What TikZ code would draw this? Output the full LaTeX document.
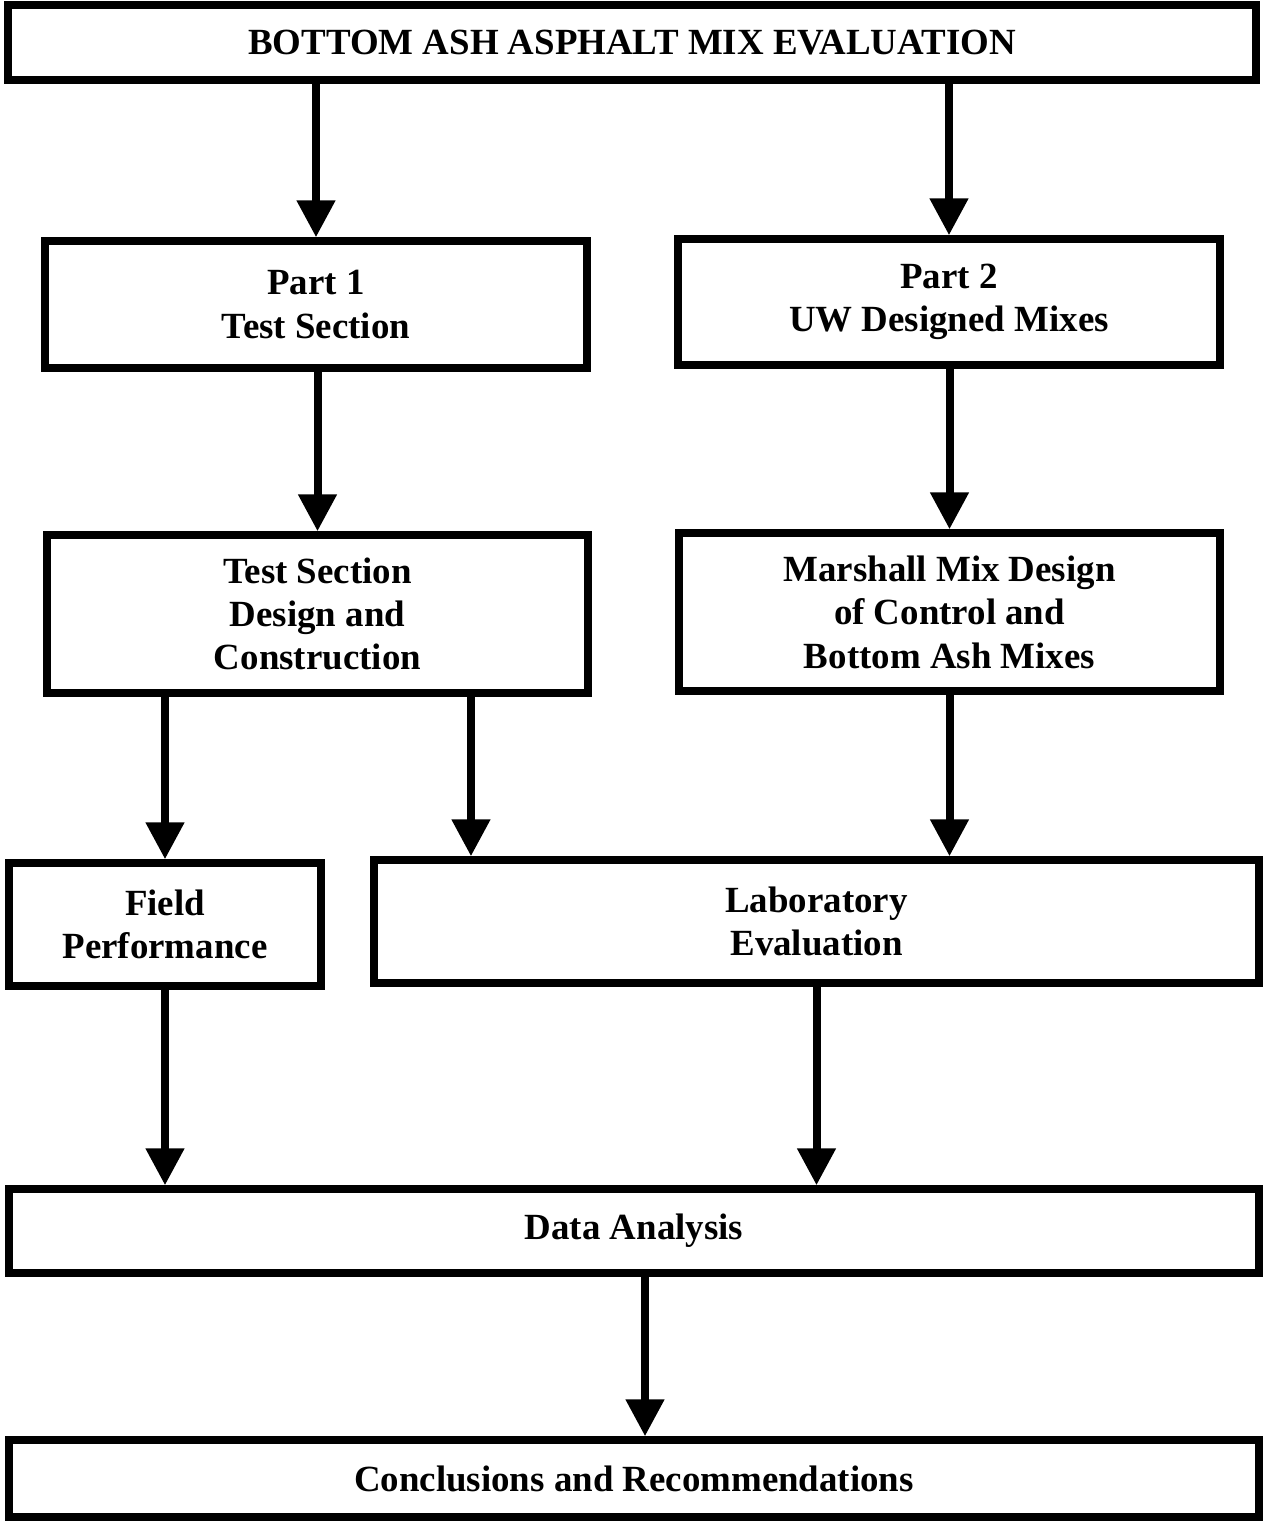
\documentclass[tikz,border=0pt]{standalone}
\usepackage{fontspec}
\setmainfont{Liberation Serif}
\usetikzlibrary{arrows.meta}

\begin{document}
\begin{tikzpicture}[x=0.02cm,y=-0.02cm,
    box/.style={draw,line width=0.15cm,align=center,inner sep=0pt,
        font=\fontsize{21}{24.7}\selectfont\bfseries},
    flow/.style={line width=0.16cm,-{Triangle[length=0.74cm,width=0.74cm]}}
]
\useasboundingbox (0,0) rectangle (1262,1521);
% top of the chart
\node[box,minimum width=24.96cm,minimum height=1.5cm] (eval) at (632,42.5)
    {BOTTOM ASH ASPHALT MIX EVALUATION};
% the two parts
\node[box,minimum width=10.84cm,minimum height=2.54cm] (part1) at (316,304.5)
    {Part 1\\Test Section};
\node[box,minimum width=10.84cm,minimum height=2.52cm] (part2) at (949,302)
    {Part 2\\UW Designed Mixes};
\node[box,minimum width=10.82cm,minimum height=3.16cm] (design) at (317.5,614)
    {Test Section\\Design and\\Construction};
\node[box,minimum width=10.82cm,minimum height=3.16cm] (marshall) at (949.5,612)
    {Marshall Mix Design\\of Control and\\Bottom Ash Mixes};
% evaluation
\node[box,minimum width=6.24cm,minimum height=2.46cm] (field) at (165,924.5)
    {Field\\Performance};
\node[box,minimum width=17.7cm,minimum height=2.46cm] (lab) at (816.5,921.5)
    {Laboratory\\Evaluation};
\node[box,minimum width=25cm,minimum height=1.68cm] (data) at (634,1231)
    {Data Analysis};
\node[box,minimum width=25cm,minimum height=1.54cm] (concl) at (634,1478.5)
    {Conclusions and Recommendations};
% connectors
\draw[flow] (eval.south -| part1.north) -- (part1.north);
\draw[flow] (eval.south -| part2.north) -- (part2.north);
\draw[flow] (part1.south -| design.north) -- (design.north);
\draw[flow] (part2.south -| marshall.north) -- (marshall.north);
\draw[flow] (design.south -| field.north) -- (field.north);
\draw[flow] ([xshift=3.07cm]design.south) -- ([xshift=3.07cm]design.south |- lab.north);
\draw[flow] (marshall.south) -- (marshall.south |- lab.north);
\draw[flow] (field.south) -- (field.south |- data.north);
\draw[flow] (lab.south) -- (lab.south |- data.north);
\draw[flow] ([xshift=0.22cm]data.south) -- ([xshift=0.22cm]data.south |- concl.north);
\end{tikzpicture}
\end{document}
